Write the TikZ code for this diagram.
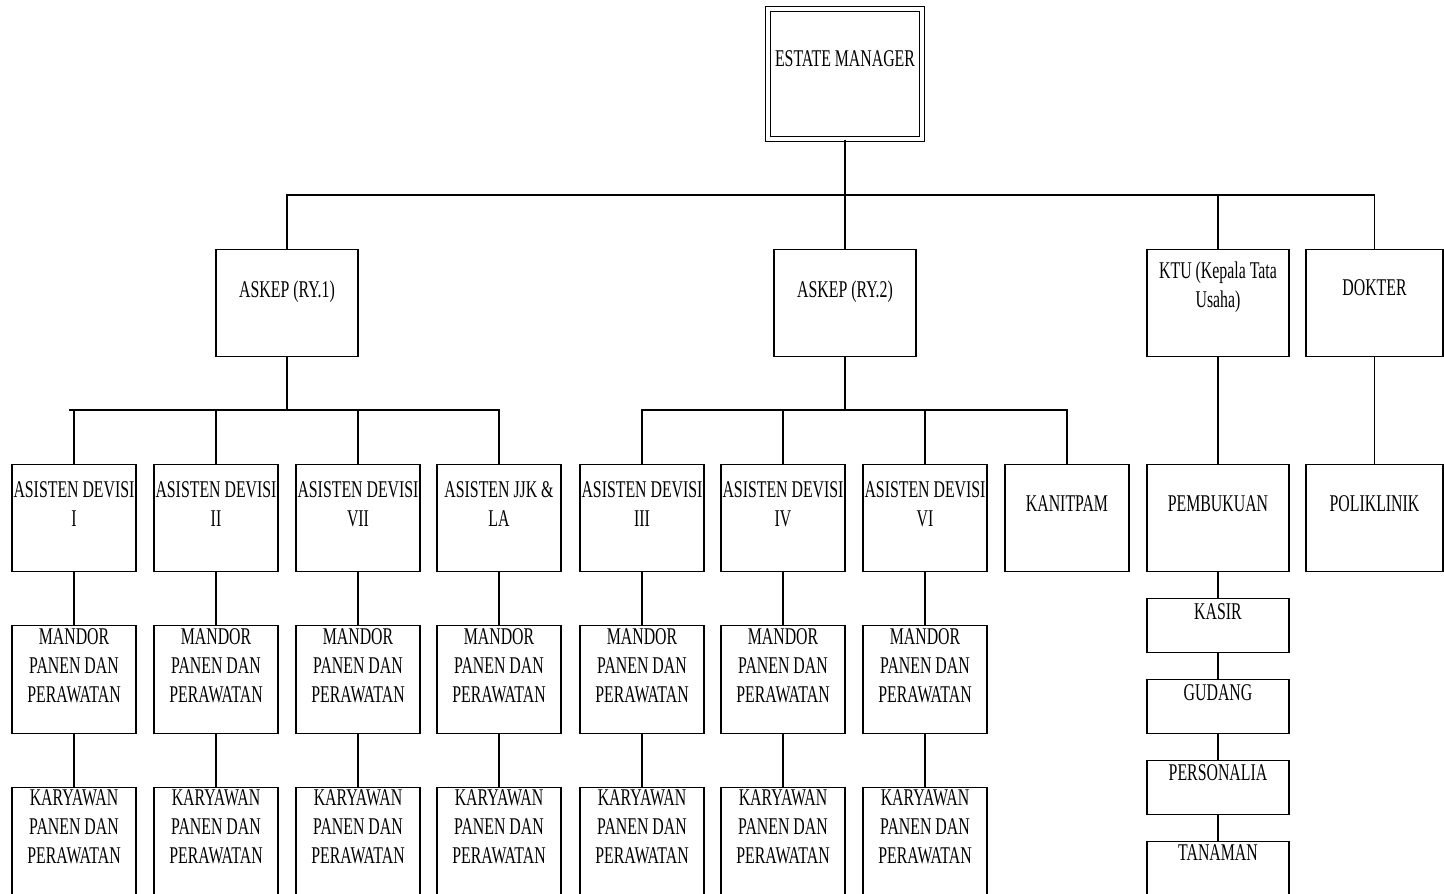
\documentclass[tikz,border=0pt]{standalone}
\usepackage{fontspec}
\setmainfont{Liberation Serif}
\newfontfamily\cond[FakeStretch=0.66]{Liberation Serif}
% name, centre x, top y, width, height, baseline offset, text
\newcommand\orgbox[7]{%
  \node[box, minimum width=#4pt, minimum height=#5pt, anchor=north] (#1) at (#2,-#3) {};
  \node[txt, anchor=base] (#1t) at ([yshift=-#6pt]#1.north) {\parbox[t]{#4pt}{\centering #7}};
}
\begin{document}
\begin{tikzpicture}[x=1pt,y=1pt,
  box/.style={draw, line width=1.4pt, fill=white, inner sep=0pt},
  txt/.style={inner sep=0pt, font=\cond\fontsize{24}{29}\selectfont, text=black},
  conn/.style={line width=1.4pt}]
\clip (0,0) rectangle (1444,-894);
\fill[white] (0,0) rectangle (1444,-894);

% top
\node[draw, line width=1.2pt, double=white, double distance=3.5pt, minimum width=154pt, minimum height=130pt, inner sep=0pt, anchor=north] (em) at (845,-8.5) {};
\node[txt, anchor=base] (emt) at ([yshift=-58pt]em.north) {ESTATE MANAGER};

% level 1
\orgbox{k1}{287}{249}{142}{107}{48}{ASKEP (RY.1)}
\orgbox{k2}{845}{249}{142}{107}{48}{ASKEP (RY.2)}
\orgbox{ktu}{1218}{249}{142}{107}{29}{KTU (Kepala Tata\\Usaha)}
\orgbox{dok}{1374.5}{249}{137}{107}{46}{DOKTER}

% level 2
\orgbox{a1}{74}{464}{124}{107}{33}{ASISTEN DEVISI\\I}
\orgbox{a2}{216}{464}{124}{107}{33}{ASISTEN DEVISI\\II}
\orgbox{a3}{358}{464}{124}{107}{33}{ASISTEN DEVISI\\VII}
\orgbox{a4}{499}{464}{124}{107}{33}{ASISTEN JJK \&\\LA}
\orgbox{a5}{642}{464}{124}{107}{33}{ASISTEN DEVISI\\III}
\orgbox{a6}{783}{464}{124}{107}{33}{ASISTEN DEVISI\\IV}
\orgbox{a7}{925}{464}{124}{107}{33}{ASISTEN DEVISI\\VI}
\orgbox{kan}{1067}{464}{124}{107}{47}{KANITPAM}
\orgbox{pem}{1218}{464}{142}{107}{47}{PEMBUKUAN}
\orgbox{pol}{1374.5}{464}{137}{107}{47}{POLIKLINIK}

% level 3 and 4
\foreach \i/\x in {1/74,2/216,3/358,4/499,5/642,6/783,7/925}{
  \orgbox{m\i}{\x}{625}{124}{108}{19}{MANDOR\\PANEN DAN\\PERAWATAN}
  \orgbox{w\i}{\x}{787}{124}{108}{18}{KARYAWAN\\PANEN DAN\\PERAWATAN}
  \draw[conn] (a\i.south) -- (m\i.north);
  \draw[conn] (m\i.south) -- (w\i.north);
}

% KTU column
\orgbox{kas}{1218}{598}{142}{54}{21}{KASIR}
\orgbox{gud}{1218}{679}{142}{54}{21}{GUDANG}
\orgbox{per}{1218}{760}{142}{54}{20}{PERSONALIA}
\orgbox{tan}{1218}{841}{142}{54}{19}{TANAMAN}

% connectors
\coordinate (bus0) at (845,-195);
\coordinate (bus1) at (287,-410);
\coordinate (bus1l) at (69,-410);
\coordinate (bus2) at (845,-410);

\draw[conn] (em.south) -- (bus0);
\draw[conn] (k1.north) -- (k1.north |- bus0) -| (dok.north);
\draw[conn] (k2.north) -- (k2.north |- bus0);
\draw[conn] (ktu.north) -- (ktu.north |- bus0);

\draw[conn] (k1.south) -- (bus1);
\draw[conn] (bus1l) -- (a4.north |- bus1) -- (a4.north);
\foreach \n in {a1,a2,a3}{\draw[conn] (\n.north |- bus1) -- (\n.north);}

\draw[conn] (k2.south) -- (bus2);
\draw[conn] (a5.north) -- (a5.north |- bus2) -- (kan.north |- bus2) -- (kan.north);
\foreach \n in {a6,a7}{\draw[conn] (\n.north |- bus2) -- (\n.north);}

\draw[conn] (ktu.south) -- (pem.north);
\draw[conn] (dok.south) -- (pol.north);
\draw[conn] (pem.south) -- (kas.north);
\draw[conn] (kas.south) -- (gud.north);
\draw[conn] (gud.south) -- (per.north);
\draw[conn] (per.south) -- (tan.north);
\end{tikzpicture}
\end{document}
